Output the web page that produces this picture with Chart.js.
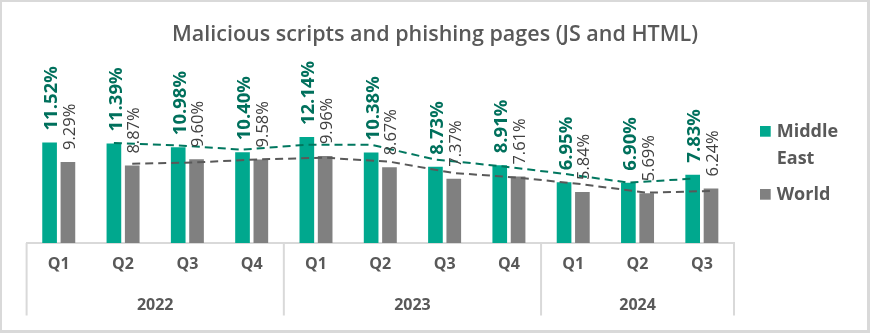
<!DOCTYPE html>
<html>
<head>
<meta charset="utf-8">
<script src="https://cdn.jsdelivr.net/npm/chart.js@4/dist/chart.umd.min.js"></script>
<style>
  html, body { margin: 0; padding: 0; background: #ffffff; }
  #wrap { position: relative; width: 870px; height: 333px; }
  #wrap canvas { position: absolute; left: 0; top: 0; }
  #frame {
    position: absolute; left: 0; top: 0; width: 870px; height: 333px;
    box-sizing: border-box; border-style: solid; border-color: #D9D9D9;
    border-width: 2px 3px 3px 2px; pointer-events: none;
  }
</style>
</head>
<body>
<div id="wrap">
  <canvas id="chart" width="870" height="333"></canvas>
  <div id="frame"></div>
</div>
<script>
// Quarterly share of users hit by malicious scripts and phishing pages, %
const chartTitle = 'Malicious scripts and phishing pages (JS and HTML)';
const quarters = ['Q1', 'Q2', 'Q3', 'Q4', 'Q1', 'Q2', 'Q3', 'Q4', 'Q1', 'Q2', 'Q3'];
const years = ['2022', '2023', '2024'];
const quartersPerYear = [4, 4, 3];
const seriesNames = ['Middle East', 'World'];
const middleEast = [11.52, 11.39, 10.98, 10.40, 12.14, 10.38, 8.73, 8.91, 6.95, 6.90, 7.83];
const world = [9.29, 8.87, 9.60, 9.58, 9.96, 8.67, 7.37, 7.61, 5.84, 5.69, 6.24];

const FONT = "'Open Sans', 'DejaVu Sans', sans-serif";
const TEXT_GREY = '#595959';
const GRID_GREY = '#D9D9D9';

const styles = [
  { bar: '#00A88E', label: '#00705C', labelWeight: 'bold', labelSize: 18.5, trend: '#00775F' },
  { bar: '#808080', label: '#404040', labelWeight: 'normal', labelSize: 16.5, trend: '#595959' }
];

// Two-period moving average trendline of a series (first point has no value)
function movingAverage(values) {
  return values.map((v, i) => i === 0 ? null : (values[i - 1] + v) / 2);
}

// Title centred across the whole canvas
const titlePlugin = {
  id: 'centredTitle',
  afterDraw(chart) {
    const ctx = chart.ctx;
    ctx.save();
    ctx.fillStyle = TEXT_GREY;
    ctx.font = `600 21.5px ${FONT}`;
    ctx.textAlign = 'center';
    ctx.textBaseline = 'alphabetic';
    ctx.fillText(chartTitle, chart.width / 2, 41);
    ctx.restore();
  }
};

// Dashed trendlines through the bar centres
const trendlinePlugin = {
  id: 'trendlines',
  afterDatasetsDraw(chart) {
    const ctx = chart.ctx;
    const yScale = chart.scales.y;
    chart.data.datasets.forEach((ds, di) => {
      const meta = chart.getDatasetMeta(di);
      const avg = movingAverage(ds.data);
      ctx.save();
      ctx.strokeStyle = styles[di].trend;
      ctx.lineWidth = 2;
      ctx.setLineDash([8, 5]);
      ctx.beginPath();
      let started = false;
      avg.forEach((v, i) => {
        if (v === null) return;
        const x = meta.data[i].x;
        const y = yScale.getPixelForValue(v);
        if (!started) { ctx.moveTo(x, y); started = true; } else { ctx.lineTo(x, y); }
      });
      ctx.stroke();
      ctx.restore();
    });
  }
};

// Vertical value labels above each bar
const valueLabelPlugin = {
  id: 'valueLabels',
  afterDatasetsDraw(chart) {
    const ctx = chart.ctx;
    chart.data.datasets.forEach((ds, di) => {
      const meta = chart.getDatasetMeta(di);
      const st = styles[di];
      ctx.save();
      ctx.fillStyle = st.label;
      ctx.font = `${st.labelWeight} ${st.labelSize}px ${FONT}`;
      ctx.textAlign = 'left';
      ctx.textBaseline = 'alphabetic';
      meta.data.forEach((bar, i) => {
        const text = ds.data[i].toFixed(2) + '%';
        ctx.save();
        ctx.translate(bar.x + st.labelSize * 0.357 + 1, bar.y - 12);
        ctx.rotate(-Math.PI / 2);
        ctx.fillText(text, 0, 0);
        ctx.restore();
      });
      ctx.restore();
    });
  }
};

// Year row, group separators and the side legend
const categoryFramePlugin = {
  id: 'categoryFrame',
  afterDraw(chart) {
    const ctx = chart.ctx;
    const x = chart.scales.x;
    const area = chart.chartArea;
    const bottom = area.bottom + 72.5;
    const boundary = (idx) => {
      if (idx <= 0) return area.left;
      if (idx >= quarters.length) return area.right;
      return (x.getPixelForValue(idx - 1) + x.getPixelForValue(idx)) / 2;
    };
    ctx.save();
    ctx.strokeStyle = GRID_GREY;
    ctx.lineWidth = 2;
    let start = 0;
    const edges = [0];
    quartersPerYear.forEach(n => { start += n; edges.push(start); });
    edges.forEach(idx => {
      const px = boundary(idx);
      ctx.beginPath();
      ctx.moveTo(px, area.bottom);
      ctx.lineTo(px, bottom);
      ctx.stroke();
    });
    ctx.fillStyle = TEXT_GREY;
    ctx.font = `bold 16px ${FONT}`;
    ctx.textAlign = 'center';
    ctx.textBaseline = 'alphabetic';
    years.forEach((yr, k) => {
      const cx = (boundary(edges[k]) + boundary(edges[k + 1])) / 2;
      ctx.fillText(yr, cx, area.bottom + 67);
    });

    // legend
    const lx = area.right + 26;
    const tx = area.right + 42.7;
    ctx.font = `bold 18px ${FONT}`;
    ctx.textAlign = 'left';
    const entries = [
      { lines: ['Middle', 'East'], top: 126 },
      { lines: ['World'], top: 189 }
    ];
    entries.forEach((e, k) => {
      ctx.fillStyle = styles[k].bar;
      ctx.fillRect(lx, e.top, 10.7, 10.7);
      ctx.fillStyle = TEXT_GREY;
      e.lines.forEach((ln, j) => {
        ctx.fillText(ln, tx, e.top + 10.5 + j * 27.5);
      });
    });
    ctx.restore();
  }
};

new Chart(document.getElementById('chart'), {
  type: 'bar',
  data: {
    labels: quarters,
    datasets: [
      { label: seriesNames[0], data: middleEast, backgroundColor: styles[0].bar,
        categoryPercentage: 0.57, barPercentage: 0.8 },
      { label: seriesNames[1], data: world, backgroundColor: styles[1].bar,
        categoryPercentage: 0.57, barPercentage: 0.8 }
    ]
  },
  options: {
    responsive: false,
    animation: false,
    layout: { padding: { left: 26.6, right: 136, top: 85.9, bottom: 2 } },
    plugins: {
      legend: { display: false },
      tooltip: { enabled: false },
      title: { display: false }
    },
    scales: {
      x: {
        grid: { display: false, drawTicks: false },
        border: { color: GRID_GREY, width: 2 },
        ticks: { color: TEXT_GREY, font: { family: FONT, size: 16, weight: 'bold' }, padding: 12 },
        afterFit(scale) { scale.height = 88; }
      },
      y: { display: false, min: 0, max: 18 }
    }
  },
  plugins: [trendlinePlugin, valueLabelPlugin, categoryFramePlugin, titlePlugin]
});
</script>
</body>
</html>
